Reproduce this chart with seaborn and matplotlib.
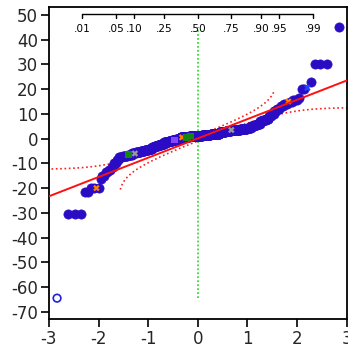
import numpy as np
import pandas as pd
import matplotlib
matplotlib.use("Agg")
import matplotlib.pyplot as plt
import matplotlib.transforms as mtransforms
import seaborn as sns
from statistics import NormalDist

# ---- data (sorted values with their frequencies) ----
values = [-64.5, -30.5, -21.5, -20.0, -16.5, -15.0, -13.5, -12.5, -11.5, -10.0,
          -8.5, -7.5, -7.0, -6.5, -6.0, -5.5, -5.0, -4.5, -4.0, -3.5,
          -3.0, -2.5, -2.0, -1.5, -1.0, -0.5, 0.0, 0.5, 1.0, 1.5,
          2.0, 2.5, 3.0, 3.5, 4.0, 4.5, 5.0, 5.5, 6.0, 7.0,
          7.5, 8.0, 9.0, 10.0, 11.0, 12.0, 13.0, 14.0, 15.0, 15.5,
          16.5, 20.0, 20.5, 23.0, 30.0, 45.0]
counts = [1, 3, 2, 4, 1, 2, 2, 2, 2, 3,
          2, 4, 6, 6, 6, 8, 8, 8, 8, 6,
          8, 8, 9, 12, 12, 12, 14, 30, 45, 30,
          30, 18, 16, 25, 16, 8, 6, 5, 5, 5,
          4, 4, 3, 3, 3, 3, 3, 3, 3, 3,
          1, 2, 1, 1, 3, 1]
special_ranks = [9, 36, 45, 140, 165, 178, 186, 194, 330, 425, 434]
special_groups = ["orange", "green", "gray", "purple", "orange", "green",
                  "green", "green", "gray", "orange", "bluex"]
excluded_ranks = [1]

# normal fit parameters
fit_mean = 0.1
fit_sd = 7.8
band_d = 0.055

quantile_ticks = [0.01, 0.05, 0.10, 0.25, 0.50, 0.75, 0.90, 0.95, 0.99]
quantile_labels = [".01", ".05", ".10", ".25", ".50", ".75", ".90", ".95", ".99"]
xticks = [-3, -2, -1, 0, 1, 2, 3]
yticks = [50, 40, 30, 20, 10, 0, -10, -20, -30, -40, -50, -60, -70]

# ---- derived ----
nd = NormalDist()
y = np.repeat(np.array(values, float), counts)
n = len(y)
ranks = np.arange(1, n + 1)
z = np.array([nd.inv_cdf(r / (n + 1)) for r in ranks])
group = np.array(["main"] * n, dtype=object)
for r, g in zip(special_ranks, special_groups):
    group[r - 1] = g
for r in excluded_ranks:
    group[r - 1] = "excluded"
df = pd.DataFrame({"z": z, "value": y, "group": group})

mu = fit_mean
sd = fit_sd

sns.set_theme(style="ticks")
plt.rcParams["font.family"] = ["DejaVu Sans"]
plt.rcParams["axes.unicode_minus"] = False

fig = plt.figure(figsize=(3.48, 3.53), dpi=100)
ax = fig.add_axes([0.1408, 0.0972, 0.9963 - 0.1408, 0.9793 - 0.0972])

# reference line at median z
zmin, zmax = df.value.min(), df.value.max()
ax.plot([0, 0], [zmin, zmax], color="#33dd33", lw=1.3, ls=(0, (1, 1.2)), zorder=1)

# confidence bands
zg = np.linspace(-2.95, 3.0, 400)
pg = np.array([nd.cdf(v) for v in zg])
upper = np.array([mu + sd * nd.inv_cdf(p + band_d) if p + band_d < 1 else np.nan for p in pg])
lower = np.array([mu + sd * nd.inv_cdf(p - band_d) if p - band_d > 0 else np.nan for p in pg])
upper[np.abs(upper) > 20.0] = np.nan
lower[np.abs(lower) > 21.5] = np.nan
band_df = pd.DataFrame({"z": np.r_[zg, zg], "v": np.r_[upper, lower],
                        "b": ["u"] * len(zg) + ["l"] * len(zg)})
for b in ["u", "l"]:
    sub = band_df[band_df.b == b]
    ax.plot(sub.z, sub.v, color="#ff2020", lw=1.2, ls=(0, (1, 1.6)), zorder=2)

# points
main = df[df.group == "main"]
sns.scatterplot(data=main, x="z", y="value", ax=ax, color="#2a0cc4",
                edgecolor="#2a0cc4", s=44, linewidth=0.5, zorder=3, legend=False)
pal = {"orange": "#ff7f00", "green": "#118811", "gray": "#999999",
       "purple": "#8844ff", "bluex": "#2244ff"}
mk = {"orange": "X", "green": "s", "gray": "X", "purple": "s", "bluex": "X"}
spec = df[df.group.isin(list(pal))]
sns.scatterplot(data=spec, x="z", y="value", hue="group", style="group",
                palette=pal, markers=mk, ax=ax, s=22, linewidth=0, zorder=4, legend=False)
exc = df[df.group == "excluded"]
ax.scatter(exc.z, exc.value, s=30, facecolors="none", edgecolors="#2020e0",
           linewidths=1.2, zorder=4)

# fitted line
xl = np.array([-3.0, 3.0])
sns.lineplot(x=xl, y=mu + sd * xl, ax=ax, color="#ff1010", lw=1.4, zorder=5)

# quantile axis on top
trans = mtransforms.blended_transform_factory(ax.transData, ax.transAxes)
qz = [nd.inv_cdf(q) for q in quantile_ticks]
ax.plot([qz[0], qz[-1]], [0.977, 0.977], color="black", lw=1.0, transform=trans,
        clip_on=False, zorder=6)
for q, lab in zip(qz, quantile_labels):
    ax.plot([q, q], [0.977, 0.967], color="black", lw=1.0, transform=trans, zorder=6)
    ax.text(q, 0.930, lab, transform=trans, ha="center", va="center",
            fontsize=7.6, color="black")

ax.set_xlim(-3, 3)
ax.set_ylim(-72.8, 53.1)
ax.set_xticks(xticks)
ax.set_yticks(yticks)
ax.set_xticklabels([str(t) for t in xticks])
ax.set_yticklabels([str(t) for t in yticks])
ax.tick_params(axis="both", labelsize=12, length=6, width=1.2, color="black",
               direction="out", pad=2)
for s in ax.spines.values():
    s.set_visible(True)
    s.set_color("black")
    s.set_linewidth(1.3)
ax.set_xlabel("")
ax.set_ylabel("")

fig.savefig("out.png", dpi=100)
